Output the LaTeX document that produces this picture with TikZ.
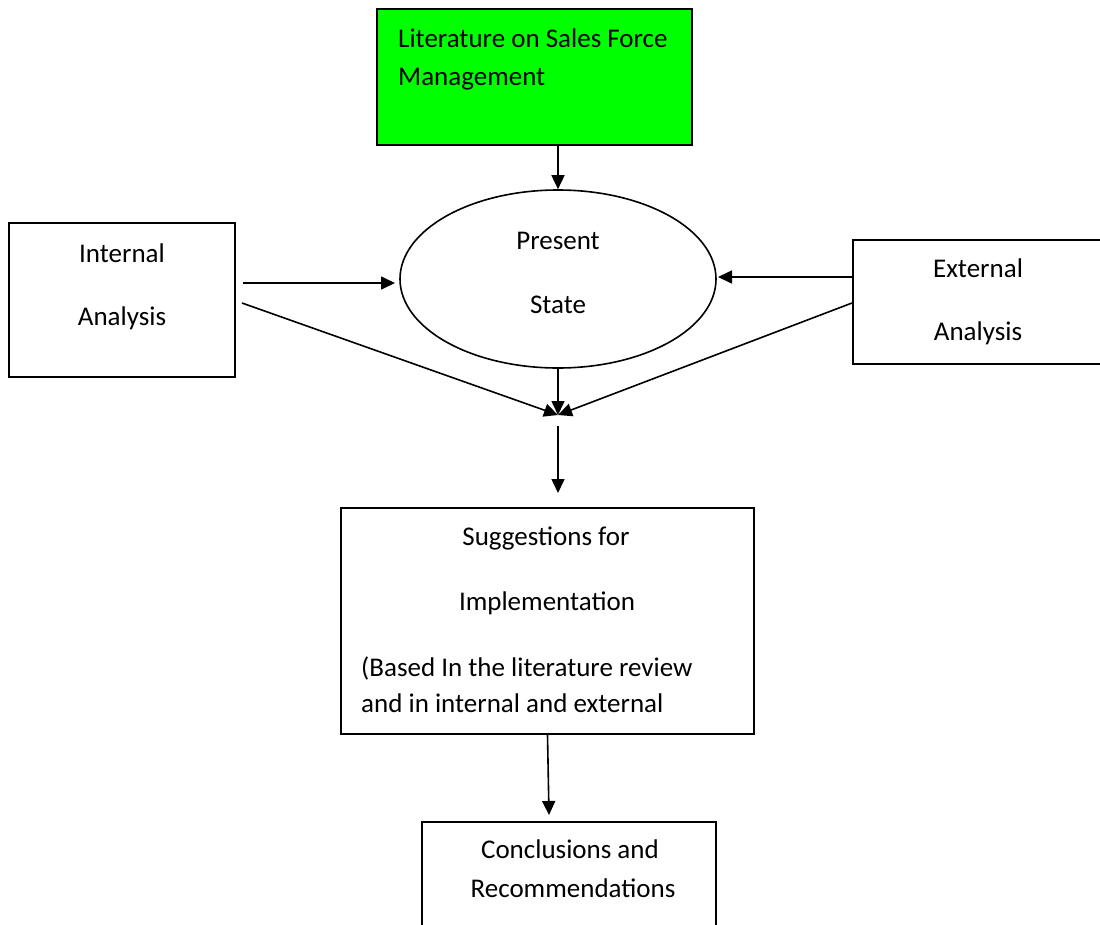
\documentclass[tikz,border=0pt]{standalone}
\usepackage{fontspec}
\setmainfont{Carlito}
\usetikzlibrary{arrows.meta,shapes.geometric}
\definecolor{litgreen}{RGB}{0,255,0}
\begin{document}
\begin{tikzpicture}[x=1pt,y=-1pt,
  box/.style={draw=black, line width=1.6pt, rectangle, inner sep=0pt},
  oval/.style={draw=black, line width=1.6pt, ellipse, inner sep=0pt},
  lbl/.style={font=\fontsize{27}{32}\selectfont, inner sep=0pt, anchor=base},
  lbll/.style={lbl, anchor=base west},
  conn/.style={line width=1.6pt, -{Triangle[length=14pt,width=13pt]}}]
\useasboundingbox (0,0) rectangle (1100,924);

% boxes and the central ellipse
\node[box, fill=litgreen, minimum width=315pt, minimum height=136pt] (lit) at (534.5,77) {};
\node[oval, minimum width=316pt, minimum height=178pt] (ps) at (558,279) {};
\node[box, minimum width=226pt, minimum height=154pt] (int) at (122,300) {};
\node[box, minimum width=257pt, minimum height=124pt] (ext) at (981.5,302) {};
\node[box, minimum width=413pt, minimum height=226pt] (sug) at (547.5,621) {};
\node[box, minimum width=294pt, minimum height=113pt] (conc) at (569,878.5) {};

% texts
\node[lbll] (litA) at (398,47) {Literature on Sales Force};
\node[lbll] (litB) at (398,85) {Management};
\node[lbl] (psA) at (558,249) {Present};
\node[lbl] (psB) at (558,313) {State};
\node[lbl] (intA) at (122,262) {Internal};
\node[lbl] (intB) at (122,325) {Analysis};
\node[lbl] (extA) at (978,277) {External};
\node[lbl] (extB) at (978,340) {Analysis};
\node[lbl] (sugA) at (546,545) {Suggestions for};
\node[lbl] (sugB) at (547,610) {Implementation};
\node[lbll] (sugC) at (361,676) {(Based In the literature review};
\node[lbll] (sugD) at (361,712) {and in internal and external};
\node[lbl] (concA) at (570,858) {Conclusions and};
\node[lbl] (concB) at (573,897) {Recommendations};

% connector end points
\coordinate (intOut) at (243,283);
\coordinate (psIn) at (395,283);
\coordinate (intDiag) at (242,303);
\coordinate (extOut) at (852,277);
\coordinate (psInR) at (718,277);
\coordinate (extDiag) at (852,303);
\coordinate (m) at (558,415);
\coordinate (mOut) at (558,426);
\coordinate (sugIn) at (558,493);
\coordinate (concIn) at (549,815);

% connectors
\draw[conn] (lit.south -| ps.north) -- (ps.north);
\draw[conn] (intOut) -- (psIn);
\draw[conn] (extOut) -- (psInR);
\draw[conn] (ps.south) -- (m);
\draw[conn] (intDiag) -- (m);
\draw[conn] (extDiag) -- (m);
\draw[conn] (mOut) -- (sugIn);
\draw[conn] (sug.south) -- (concIn);
\end{tikzpicture}
\end{document}
